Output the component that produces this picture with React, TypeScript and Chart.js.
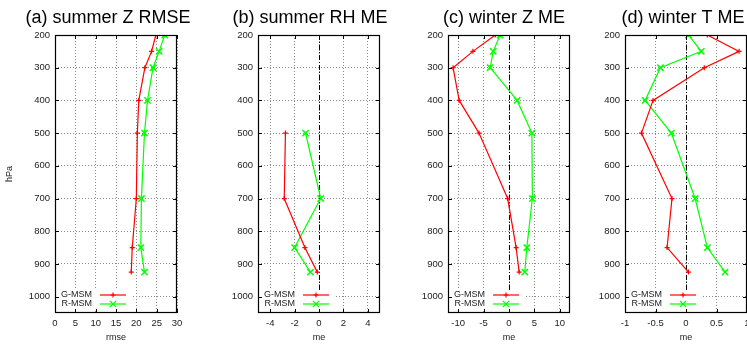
import React, { useEffect, useRef } from "react";
import { Chart, registerables } from "chart.js";

Chart.register(...registerables);

// ---- data ----
const levels = [200, 250, 300, 400, 500, 700, 850, 925];
const yTickValues = [200, 300, 400, 500, 600, 700, 800, 900, 1000];

const summerZ_G = [24.8, 23.75, 22.1, 20.6, 20.25, 20.0, 19.0, 18.75];
const summerZ_R = [27.0, 25.6, 24.1, 22.75, 22.0, 21.25, 21.1, 22.0];
const summerRH_G = [null, null, null, null, -2.75, -2.85, -1.16, -0.14];
const summerRH_R = [null, null, null, null, -1.1, 0.14, -2.0, -0.7];
const winterZ_G = [-2.7, -7.1, -11.0, -9.8, -5.9, -0.26, 1.4, 2.0];
const winterZ_R = [-1.75, -3.1, -3.7, 1.6, 4.5, 4.6, 3.5, 3.1];
const winterT_G = [0.35, 0.87, 0.3, -0.54, -0.73, -0.23, -0.31, 0.04];
const winterT_R = [0.04, 0.25, -0.42, -0.67, -0.24, 0.15, 0.35, 0.64];

const aXTicks = [0, 5, 10, 15, 20, 25, 30];
const bXTicks = [-4, -2, 0, 2, 4];
const cXTicks = [-10, -5, 0, 5, 10];
const dXTicks = [-1, -0.5, 0, 0.5, 1];

const seriesNames = ["G-MSM", "R-MSM"];

const W = 747;
const H = 347;
const FONT = "'Liberation Sans', Arial, Helvetica, sans-serif";
const RED = "#ff0000";
const GREEN = "#00ff00";

type PanelDef = {
  title: string;
  titleX: number;
  frameLeft: number;
  frameRight: number;
  xMin: number;
  xMax: number;
  xTicks: number[];
  xLabel: string;
  yLabel?: string;
  zero: boolean;
  g: (number | null)[];
  r: (number | null)[];
};

const panels: PanelDef[] = [
  { title: "(a) summer Z RMSE", titleX: 108, frameLeft: 55, frameRight: 177, xMin: 0, xMax: 30, xTicks: aXTicks, xLabel: "rmse", yLabel: "hPa", zero: false, g: summerZ_G, r: summerZ_R },
  { title: "(b) summer RH ME", titleX: 310, frameLeft: 258, frameRight: 380, xMin: -5, xMax: 5, xTicks: bXTicks, xLabel: "me", zero: true, g: summerRH_G, r: summerRH_R },
  { title: "(c) winter Z ME", titleX: 504, frameLeft: 448, frameRight: 570, xMin: -12, xMax: 12, xTicks: cXTicks, xLabel: "me", zero: true, g: winterZ_G, r: winterZ_R },
  { title: "(d) winter T ME", titleX: 683, frameLeft: 625, frameRight: 747, xMin: -1, xMax: 1, xTicks: dXTicks, xLabel: "me", zero: true, g: winterT_G, r: winterT_R },
];

function toPoints(vals: (number | null)[]) {
  const pts: { x: number; y: number }[] = [];
  vals.forEach((v, i) => {
    if (v !== null && v !== undefined) pts.push({ x: v, y: levels[i] });
  });
  return pts;
}

function drawMarker(ctx: CanvasRenderingContext2D, style: string, x: number, y: number, r: number) {
  ctx.beginPath();
  if (style === "cross") {
    ctx.moveTo(x - r, y);
    ctx.lineTo(x + r, y);
    ctx.moveTo(x, y - r);
    ctx.lineTo(x, y + r);
  } else {
    const d = r * 0.7071;
    ctx.moveTo(x - d, y - d);
    ctx.lineTo(x + d, y + d);
    ctx.moveTo(x - d, y + d);
    ctx.lineTo(x + d, y - d);
  }
  ctx.stroke();
}

const framePlugin = {
  id: "frame",
  beforeDatasetsDraw(chart: any, _args: any, opts: any) {
    if (!opts.zero) return;
    const ctx = chart.ctx;
    const ca = chart.chartArea;
    const x = Math.round(chart.scales.x.getPixelForValue(0)) + 0.5;
    ctx.save();
    ctx.strokeStyle = "#000";
    ctx.lineWidth = 1;
    ctx.setLineDash([5, 2, 1, 2]);
    ctx.beginPath();
    ctx.moveTo(x, ca.top);
    ctx.lineTo(x, ca.bottom);
    ctx.stroke();
    ctx.restore();
  },
  afterDatasetsDraw(chart: any, _args: any, opts: any) {
    const ctx: CanvasRenderingContext2D = chart.ctx;
    const ca = chart.chartArea;
    ctx.save();
    // legend (key)
    ctx.fillStyle = "#fff";
    ctx.fillRect(ca.left + 1, ca.bottom - 23, 75, 19);
    chart.data.datasets.forEach((ds: any, i: number) => {
      const y = ca.bottom - 18 + i * 9;
      ctx.fillStyle = "#222";
      ctx.font = `9px ${FONT}`;
      ctx.textAlign = "right";
      ctx.textBaseline = "middle";
      ctx.fillText(ds.label, ca.left + 37, y);
      ctx.strokeStyle = ds.borderColor;
      ctx.lineWidth = 1.2;
      ctx.beginPath();
      ctx.moveTo(ca.left + 45, y);
      ctx.lineTo(ca.left + 71, y);
      ctx.stroke();
      drawMarker(ctx, ds.pointStyle, ca.left + 58, y, ds.pointRadius);
    });
    // inward ticks on all four sides
    ctx.strokeStyle = "#000";
    ctx.lineWidth = 1;
    const xs = chart.scales.x;
    const ys = chart.scales.y;
    ctx.beginPath();
    xs.ticks.forEach((t: any) => {
      const px = Math.round(xs.getPixelForValue(t.value)) + 0.5;
      ctx.moveTo(px, ca.bottom);
      ctx.lineTo(px, ca.bottom - 4);
      ctx.moveTo(px, ca.top);
      ctx.lineTo(px, ca.top + 4);
    });
    ys.ticks.forEach((t: any) => {
      const py = Math.round(ys.getPixelForValue(t.value)) + 0.5;
      ctx.moveTo(ca.left, py);
      ctx.lineTo(ca.left + 4, py);
      ctx.moveTo(ca.right, py);
      ctx.lineTo(ca.right - 4, py);
    });
    ctx.stroke();
    // frame
    ctx.lineWidth = 1.2;
    ctx.strokeRect(ca.left + 0.5, ca.top + 0.5, ca.right - ca.left - 1, ca.bottom - ca.top - 1);
    // title
    ctx.fillStyle = "#000";
    ctx.font = `18px ${FONT}`;
    ctx.textAlign = "center";
    ctx.textBaseline = "alphabetic";
    ctx.fillText(opts.title, opts.titleX, 23);
    ctx.restore();
  },
};

function Panel({ p }: { p: PanelDef }) {
  const ref = useRef<HTMLCanvasElement | null>(null);
  useEffect(() => {
    if (!ref.current) return;
    const yW = p.yLabel ? p.frameLeft : 40;
    const tickFont = { family: FONT, size: 9.5 };
    const chart = new Chart(ref.current, {
      type: "scatter",
      data: {
        datasets: [
          {
            label: seriesNames[0],
            data: toPoints(p.g),
            borderColor: RED,
            backgroundColor: RED,
            borderWidth: 1.2,
            pointStyle: "cross",
            pointRadius: 2.5,
            pointBorderWidth: 1.2,
            pointHoverRadius: 2.5,
            showLine: true,
            tension: 0,
          },
          {
            label: seriesNames[1],
            data: toPoints(p.r),
            borderColor: GREEN,
            backgroundColor: GREEN,
            borderWidth: 1.2,
            pointStyle: "crossRot",
            pointRadius: 4.5,
            pointBorderWidth: 1.5,
            pointHoverRadius: 4.5,
            showLine: true,
            tension: 0,
          },
        ],
      },
      options: {
        responsive: false,
        animation: false,
        devicePixelRatio: 1,
        events: [],
        layout: {
          autoPadding: false,
          padding: { left: p.frameLeft - yW, right: W - p.frameRight, top: 35, bottom: 0 },
        },
        plugins: {
          legend: { display: false },
          tooltip: { enabled: false },
          frame: { zero: p.zero, title: p.title, titleX: p.titleX },
        } as any,
        scales: {
          x: {
            type: "linear",
            position: "bottom",
            min: p.xMin,
            max: p.xMax,
            afterBuildTicks: (s: any) => {
              s.ticks = p.xTicks.map((v) => ({ value: v }));
            },
            afterFit: (s: any) => {
              s.height = H - 313;
              s.paddingLeft = 0;
              s.paddingRight = 0;
            },
            grid: { color: "#8a8a8a", lineWidth: 1, drawTicks: false },
            border: { display: false, dash: [1, 2] },
            ticks: { padding: 5, font: tickFont, color: "#222", autoSkip: false, maxRotation: 0, callback: (v: any) => String(v) },
            title: { display: true, text: p.xLabel, font: { family: FONT, size: 9 }, color: "#222", padding: { top: 0, bottom: 4 } },
          },
          y: {
            type: "linear",
            reverse: true,
            min: 200,
            max: 1050,
            afterBuildTicks: (s: any) => {
              s.ticks = yTickValues.map((v) => ({ value: v }));
            },
            afterFit: (s: any) => {
              s.width = yW;
              s.paddingTop = 0;
              s.paddingBottom = 0;
            },
            grid: { color: "#8a8a8a", lineWidth: 1, drawTicks: false },
            border: { display: false, dash: [1, 2] },
            ticks: { padding: 5, font: tickFont, color: "#222", autoSkip: false, callback: (v: any) => String(v) },
            title: p.yLabel
              ? { display: true, text: p.yLabel, font: { family: FONT, size: 9 }, color: "#222", padding: { top: 4, bottom: 0 } }
              : { display: false },
          },
        },
      } as any,
      plugins: [framePlugin as any],
    });
    return () => chart.destroy();
  }, [p]);
  return (
    <canvas
      ref={ref}
      width={W}
      height={H}
      style={{ position: "absolute", left: 0, top: 0, width: W, height: H, pointerEvents: "none" }}
    />
  );
}

export default function App() {
  return (
    <div style={{ position: "absolute", left: 0, top: 0, width: W, height: H, background: "#fff", overflow: "hidden" }}>
      {panels.map((p, i) => (
        <Panel key={i} p={p} />
      ))}
    </div>
  );
}
